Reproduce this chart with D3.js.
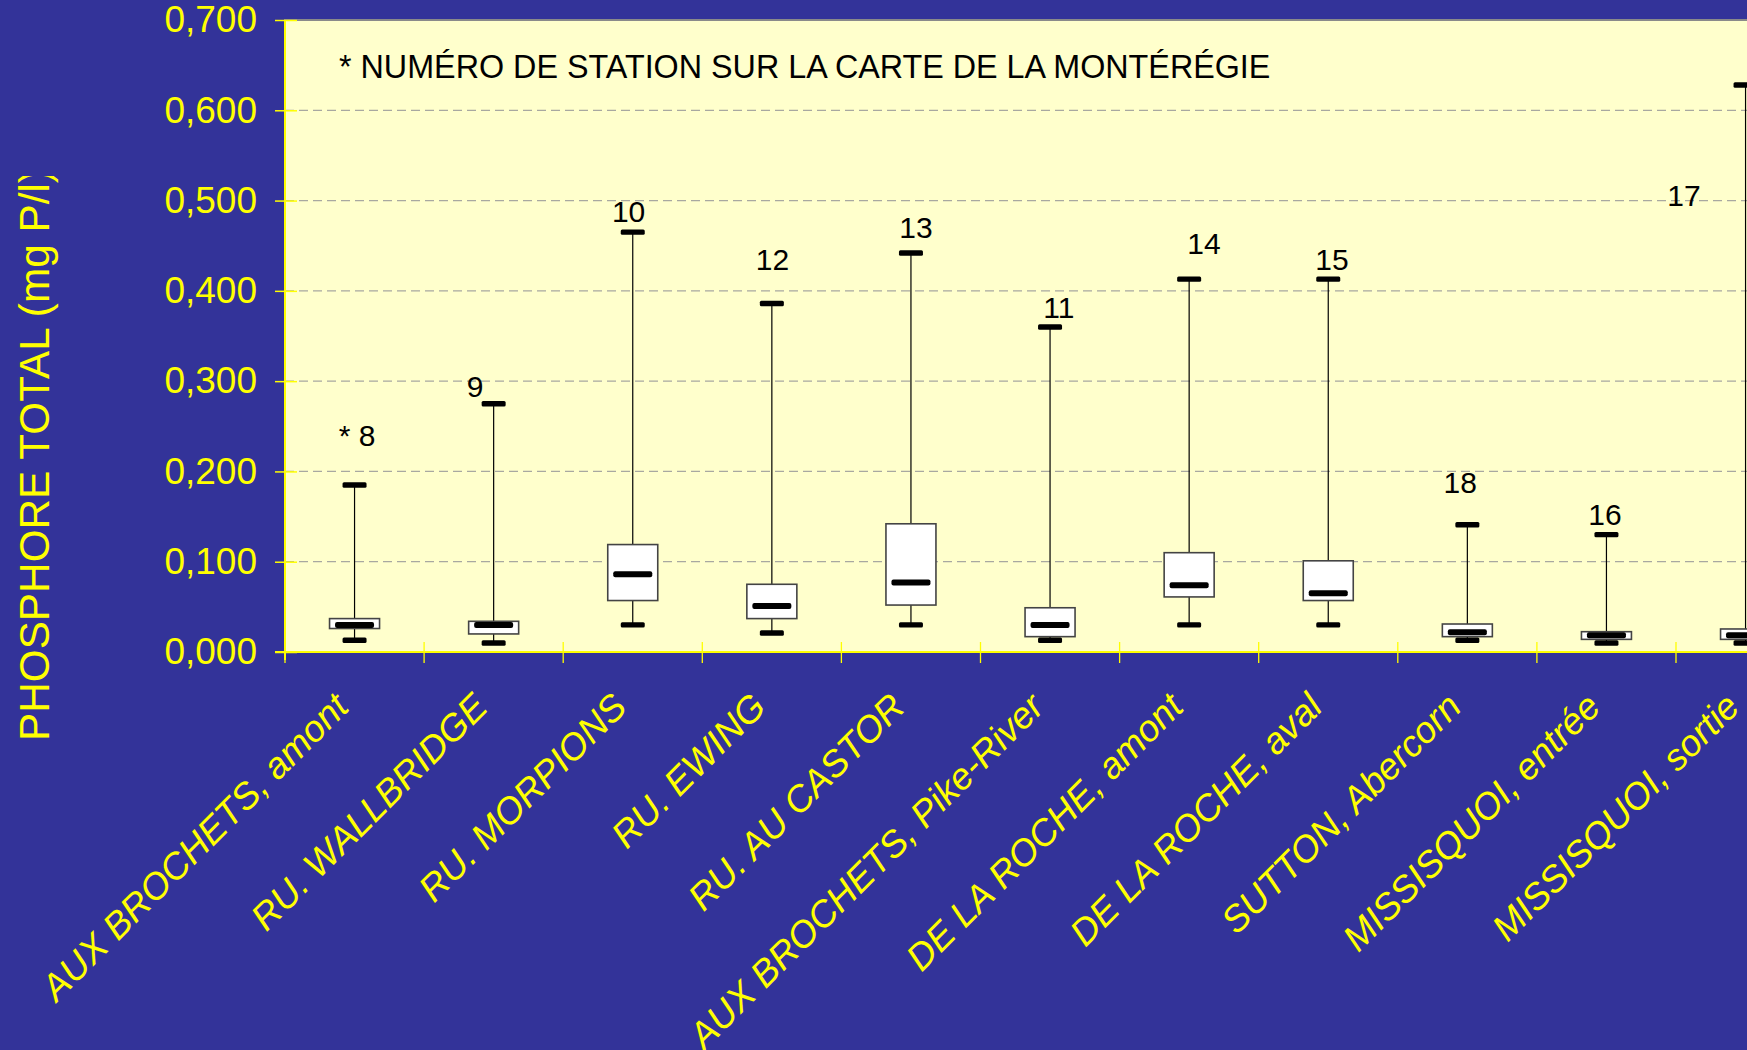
<!DOCTYPE html>
<html>
<head>
<meta charset="utf-8">
<script src="https://cdn.jsdelivr.net/npm/d3@7"></script>
<style>
html,body{margin:0;padding:0;background:#333399;overflow:hidden;}
svg{display:block;}
text{font-family:"Liberation Sans",Arial,sans-serif;}
</style>
</head>
<body>
<svg id="chart" width="1747" height="1050"></svg>
<script>
const categories = ["AUX BROCHETS, amont","RU. WALLBRIDGE","RU. MORPIONS","RU. EWING","RU. AU CASTOR",
  "AUX BROCHETS, Pike-River","DE LA ROCHE, amont","DE LA ROCHE, aval","SUTTON, Abercorn",
  "MISSISQUOI, entrée","MISSISQUOI, sortie"];
const stations = ["* 8","9","10","12","13","11","14","15","18","16","17"];
const maxVals = [0.185,0.275,0.465,0.386,0.442,0.360,0.413,0.413,0.141,0.130,0.628];
const q3Vals  = [0.037,0.034,0.119,0.075,0.142,0.049,0.110,0.101,0.031,0.0225,0.0255];
const medVals = [0.030,0.030,0.086,0.051,0.077,0.030,0.074,0.065,0.022,0.0185,0.0185];
const q1Vals  = [0.026,0.020,0.057,0.037,0.052,0.017,0.061,0.057,0.017,0.014,0.014];
const minVals = [0.013,0.010,0.030,0.021,0.030,0.013,0.030,0.030,0.013,0.010,0.010];
// station label anchor in (category-index, value) data coordinates
const stationLabelCat = [0.518,1.366,2.470,3.504,4.536,5.564,6.607,7.527,8.449,9.489,10.057];
const stationLabelVal = [0.240,0.294,0.488,0.435,0.470,0.382,0.453,0.435,0.1875,0.152,0.506];
const yTicks = [0,0.1,0.2,0.3,0.4,0.5,0.6,0.7];
const yTitle = "PHOSPHORE TOTAL (mg P/l)";
const note = "* NUMÉRO DE STATION SUR LA CARTE DE LA MONTÉRÉGIE";

(function(){
const data = categories.map((c,i)=>({cat:c, st:stations[i], max:maxVals[i], q3:q3Vals[i], med:medVals[i], q1:q1Vals[i], min:minVals[i], lc:stationLabelCat[i], lv:stationLabelVal[i]}));

const svg = d3.select("#chart");
const W = 1747, H = 1050;
const mLeft = 285, mTop = 20, mBottom = 652, band = 139.1;
const mRight = mLeft + band*categories.length;
const YEL = "#FFFF00";

svg.append("rect").attr("width",W).attr("height",H).attr("fill","#333399");

const x = d3.scaleBand().domain(categories).range([mLeft,mRight]).padding(0);
const xi = d3.scaleLinear().domain([0,categories.length]).range([mLeft,mRight]);
const y = d3.scaleLinear().domain([0,0.7]).range([mBottom,mTop]);

// plot area
svg.append("rect").attr("x",mLeft).attr("y",mTop).attr("width",mRight-mLeft).attr("height",mBottom-mTop)
  .attr("fill","#FFFFCC").attr("stroke","#8a8a8a").attr("stroke-width",2);

// gridlines
svg.append("g").selectAll("line").data(yTicks.filter(d=>d>0 && d<0.7)).join("line")
  .attr("x1",mLeft).attr("x2",mRight).attr("y1",d=>y(d)).attr("y2",d=>y(d))
  .attr("stroke","#a8a8a0").attr("stroke-width",1.3).attr("stroke-dasharray","9,5");

// note
svg.append("text").attr("x",339).attr("y",y(0.648)).attr("dy","0.35em")
  .attr("font-size",32.3).attr("fill","#000").text(note);

// boxes
const cx = d => x(d.cat)+x.bandwidth()/2;
const g = svg.append("g");
g.selectAll(".wh").data(data).join("line")
  .attr("x1",cx).attr("x2",cx).attr("y1",d=>y(d.min)).attr("y2",d=>y(d.max))
  .attr("stroke","#000").attr("stroke-width",1.2);
g.selectAll(".box").data(data).join("rect")
  .attr("x",d=>cx(d)-25).attr("width",50)
  .attr("y",d=>y(d.q3)).attr("height",d=>y(d.q1)-y(d.q3))
  .attr("fill","#fff").attr("stroke","#444").attr("stroke-width",1.6);
g.selectAll(".capmax").data(data).join("rect")
  .attr("x",d=>cx(d)-12).attr("width",24).attr("y",d=>y(d.max)-2.7).attr("height",5.4)
  .attr("rx",1.5).attr("fill","#000");
g.selectAll(".capmin").data(data).join("rect")
  .attr("x",d=>cx(d)-12).attr("width",24).attr("y",d=>y(d.min)-2.7).attr("height",5.4)
  .attr("rx",1.5).attr("fill","#000");
g.selectAll(".med").data(data).join("rect")
  .attr("x",d=>cx(d)-19.5).attr("width",39).attr("y",d=>y(d.med)-3).attr("height",6)
  .attr("rx",2).attr("fill","#000");

// station labels
svg.append("g").selectAll("text").data(data).join("text")
  .attr("x",d=>xi(d.lc)).attr("y",d=>y(d.lv)).attr("dy","0.35em")
  .attr("text-anchor","middle").attr("font-size",30).attr("fill","#000").text(d=>d.st);

// y axis
const yAxis = d3.axisLeft(y).tickValues(yTicks).tickSize(0).tickPadding(28)
  .tickFormat(d=>d3.format(".3f")(d).replace(".",","));
const ya = svg.append("g").attr("transform",`translate(${mLeft},0)`).call(yAxis);
ya.select(".domain").remove();
ya.selectAll("text").attr("font-size",37).attr("fill",YEL).attr("font-family","Liberation Sans, Arial, sans-serif");
ya.selectAll(".tick").append("line").attr("x1",-10).attr("x2",12).attr("stroke",YEL).attr("stroke-width",1.5);

// x axis labels
const xAxis = d3.axisBottom(x).tickSize(0).tickFormat(d=>d);
const xa = svg.append("g").attr("transform",`translate(0,${mBottom})`).call(xAxis);
xa.select(".domain").remove();
xa.selectAll("text").attr("font-size",37).attr("font-style","italic").attr("fill",YEL)
  .attr("font-family","Liberation Sans, Arial, sans-serif")
  .attr("text-anchor","end").attr("y",0).attr("dy",0)
  .attr("transform","translate(-4,57) rotate(-45)");

// x boundary ticks
svg.append("g").selectAll("line").data(d3.range(categories.length+1)).join("line")
  .attr("x1",d=>xi(d)).attr("x2",d=>xi(d)).attr("y1",mBottom-10).attr("y2",mBottom+11)
  .attr("stroke",YEL).attr("stroke-width",1.3);

// axis lines
svg.append("line").attr("x1",mLeft).attr("x2",mLeft).attr("y1",mTop).attr("y2",mBottom+8)
  .attr("stroke",YEL).attr("stroke-width",2);
svg.append("line").attr("x1",mLeft-10).attr("x2",mRight).attr("y1",mBottom).attr("y2",mBottom)
  .attr("stroke",YEL).attr("stroke-width",2);

// y title (clipped at top as in original)
svg.append("clipPath").attr("id","tclip").append("rect").attr("x",0).attr("y",176).attr("width",120).attr("height",700);
svg.append("g").attr("clip-path","url(#tclip)")
  .append("text")
  .attr("transform","translate(49,741) rotate(-90)")
  .attr("font-size",42.3).attr("fill",YEL).text(yTitle);
})();
</script>
</body>
</html>
